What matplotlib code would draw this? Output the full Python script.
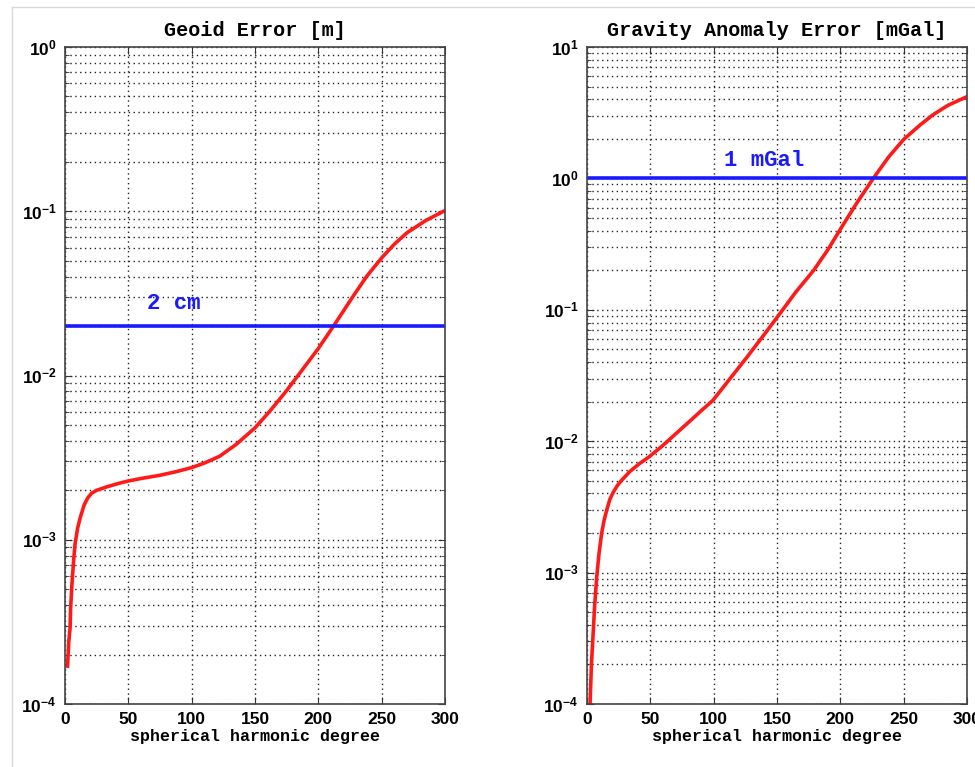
import math
import matplotlib
matplotlib.use('Agg')
import matplotlib.pyplot as plt
from matplotlib.lines import Line2D
from matplotlib.ticker import LogLocator, FixedLocator, FuncFormatter, NullFormatter

plt.rcParams['mathtext.fontset'] = 'custom'
plt.rcParams['mathtext.rm'] = 'Liberation Sans:bold'
plt.rcParams['mathtext.bf'] = 'Liberation Sans:bold'
plt.rcParams['mathtext.it'] = 'Liberation Sans:bold'

# Geoid error curve (degree, metres)
geoid_deg = [2, 3, 4, 4.5, 5.5, 7, 8, 10, 12, 15, 18, 21, 25, 33, 42, 50, 60,
             75, 88, 100, 110, 122, 135, 150, 162, 175, 188, 200, 212, 227,
             238, 250, 260, 270, 285, 300]
geoid_err = [1.7e-4, 2.4e-4, 2.9e-4, 3.9e-4, 5.4e-4, 7.8e-4, 9.5e-4, 1.18e-3,
             1.36e-3, 1.62e-3, 1.8e-3, 1.92e-3, 2.0e-3, 2.1e-3, 2.2e-3, 2.28e-3,
             2.36e-3, 2.47e-3, 2.6e-3, 2.75e-3, 2.93e-3, 3.22e-3, 3.8e-3,
             4.8e-3, 6.1e-3, 8.1e-3, 0.0110, 0.0146, 0.020, 0.030, 0.040, 0.052,
             0.063, 0.074, 0.088, 0.101]

# Gravity anomaly error curve (degree, mGal)
grav_deg = [2.4, 3.5, 4.9, 6, 7.7, 9.5, 11.6, 13.5, 15.6, 18, 20.8, 24, 27,
            34, 41, 49, 60, 71, 81.5, 90, 99.5, 113, 126.6, 140, 152.8, 165,
            179, 190, 200, 213, 226, 238, 250, 263, 273, 285, 299]
grav_err = [1.0e-4, 2.0e-4, 3.5e-4, 5.5e-4, 9.3e-4, 1.4e-3, 2.0e-3, 2.5e-3,
            3.0e-3, 3.6e-3, 4.1e-3, 4.6e-3, 5.0e-3, 5.9e-3, 6.7e-3, 7.6e-3,
            9.3e-3, 0.0116, 0.0143, 0.0170, 0.0205, 0.030, 0.044, 0.065,
            0.095, 0.137, 0.20, 0.285, 0.41, 0.65, 1.0, 1.45, 1.98, 2.55, 3.04,
            3.6, 4.15]

geoid_limit = 0.02
grav_limit = 1.0
xticks = [0, 50, 100, 150, 200, 250, 300]

fig = plt.figure(figsize=(9.75, 7.67), dpi=100)

# light frame around the picture
fig.add_artist(Line2D([12/975, 12/975], [0, 1 - 7/767], color='#d9d9d9', lw=1))
fig.add_artist(Line2D([12/975, 1], [1 - 7/767, 1 - 7/767], color='#d9d9d9', lw=1))

ax1 = fig.add_axes([65/975, 1 - 704/767, 380/975, 657/767])
ax2 = fig.add_axes([587/975, 1 - 704/767, 380/975, 657/767])


def pow_fmt(v, pos):
    e = int(round(math.log10(v)))
    return r'$10^{%d}$' % e


def style(ax, ymin, ymax, title):
    ax.set_yscale('log')
    ax.set_xlim(0, 300)
    ax.set_ylim(ymin, ymax)
    ax.xaxis.set_major_locator(FixedLocator(xticks))
    ax.yaxis.set_major_locator(LogLocator(base=10, numticks=10))
    ax.yaxis.set_minor_locator(LogLocator(base=10, subs=range(2, 10), numticks=20))
    ax.yaxis.set_major_formatter(FuncFormatter(pow_fmt))
    ax.yaxis.set_minor_formatter(NullFormatter())
    ax.grid(True, which='major', axis='both', linestyle=(0, (1, 2.5)), color='#222222', lw=1.0)
    ax.grid(True, which='minor', axis='y', linestyle=(0, (1, 2.5)), color='#222222', lw=1.0)
    ax.tick_params(which='both', direction='in', top=True, right=True,
                   color='#333333', labelsize=12.5)
    ax.tick_params(which='major', length=5, pad=6)
    ax.tick_params(which='minor', length=3)
    for lab in ax.get_xticklabels():
        lab.set_fontfamily('Liberation Sans')
        lab.set_fontweight('bold')
    for sp in ax.spines.values():
        sp.set_color('#444444')
        sp.set_linewidth(1.2)
    ax.set_title(title, family='Liberation Mono', fontweight='bold', fontsize=14.5, pad=8)
    ax.set_xlabel('spherical harmonic degree', family='Liberation Mono',
                  fontweight='bold', fontsize=12, labelpad=1)


style(ax1, 1e-4, 1e0, 'Geoid Error [m]')
ax1.plot(geoid_deg, geoid_err, color='#ff1a1a', lw=2.6)
ax1.axhline(geoid_limit, color='#1a1aff', lw=2.6)
ax1.text(65, 0.0275, '2 cm', color='#1a1aff', family='Liberation Mono',
         fontweight='bold', fontsize=16, va='center', ha='left')

style(ax2, 1e-4, 1e1, 'Gravity Anomaly Error [mGal]')
ax2.plot(grav_deg, grav_err, color='#ff1a1a', lw=2.6)
ax2.axhline(grav_limit, color='#1a1aff', lw=2.6)
ax2.text(108, 1.38, '1 mGal', color='#1a1aff', family='Liberation Mono',
         fontweight='bold', fontsize=16, va='center', ha='left')

fig.savefig('out.png', dpi=100)
